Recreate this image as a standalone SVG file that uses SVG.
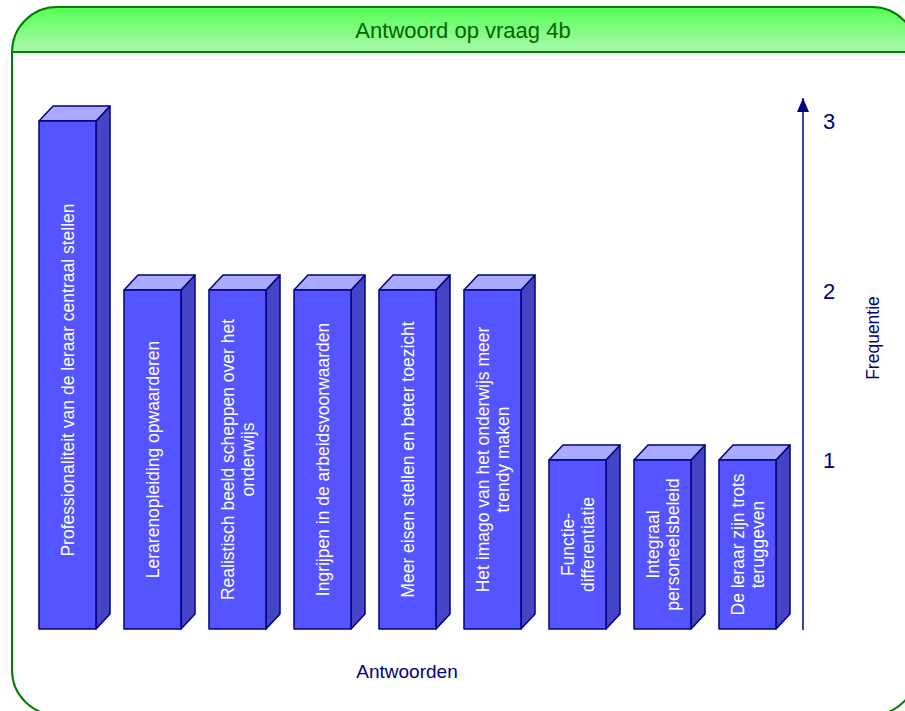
<svg xmlns="http://www.w3.org/2000/svg" width="905" height="711" viewBox="0 0 905 711">
  <defs>
    <linearGradient id="hdr" x1="0" y1="0" x2="0" y2="1">
      <stop offset="0" stop-color="#55FF55"/>
      <stop offset="1" stop-color="#AAF8AA"/>
    </linearGradient>
    <marker id="arrow" markerWidth="14" markerHeight="12" refX="14" refY="6" orient="auto" markerUnits="userSpaceOnUse" viewBox="0 0 14 12">
      <path d="M0,0 L14,6 L0,12 Z" fill="#000080"/>
    </marker>
  </defs>
  <style>
    .frame { fill: none; stroke: #008000; stroke-width: 2; }
    .front { fill: #5555FF; stroke: #000080; stroke-width: 1.5; stroke-linejoin: round; }
    .side { fill: #4444C4; stroke: #000080; stroke-width: 1.5; stroke-linejoin: round; }
    .top { fill: #AAAAFF; stroke: #000080; stroke-width: 1.5; stroke-linejoin: round; }
    .lbl { font-family: "Liberation Sans", Arial, sans-serif; font-size: 17.5px; fill: #FFFFFF; text-anchor: middle; }
    .axis { font-family: "Liberation Sans", Arial, sans-serif; fill: #000080; }
    .title { font-family: "Liberation Sans", Arial, sans-serif; font-size: 22px; fill: #006400; text-anchor: middle; }
  </style>

  <!-- panel with green header -->
  <g id="panel">
    <path d="M12,52 A45,45 0 0 1 57,7 L872,7 A45,45 0 0 1 917,52 Z" fill="url(#hdr)"/>
    <path class="frame" d="M12,52 L917,52"/>
    <path class="frame" d="M57,7 L872,7 A45,45 0 0 1 917,52 L917,670 A45,45 0 0 1 872,715 L57,715 A45,45 0 0 1 12,670 L12,52 A45,45 0 0 1 57,7 Z"/>
    <text class="title" x="463" y="38">Antwoord op vraag 4b</text>
  </g>

  <!-- bars: front face, side face, top face, rotated label -->
  <g id="bar1">
    <polygon class="side" points="96,121 110,106 110,614 96,629"/>
    <polygon class="top" points="39,121 53,106 110,106 96,121"/>
    <rect class="front" x="39" y="121" width="57" height="508"/>
    <text class="lbl" transform="translate(67.5,380) rotate(-90)" y="6">Professionaliteit van de leraar centraal stellen</text>
  </g>
  <g id="bar2">
    <polygon class="side" points="181,290 195,275 195,614 181,629"/>
    <polygon class="top" points="124,290 138,275 195,275 181,290"/>
    <rect class="front" x="124" y="290" width="57" height="339"/>
    <text class="lbl" transform="translate(152.5,459.5) rotate(-90)" y="6">Lerarenopleiding opwaarderen</text>
  </g>
  <g id="bar3">
    <polygon class="side" points="266,290 280,275 280,614 266,629"/>
    <polygon class="top" points="209,290 223,275 280,275 266,290"/>
    <rect class="front" x="209" y="290" width="57" height="339"/>
    <text class="lbl" transform="translate(237.5,459.5) rotate(-90)"><tspan x="0" y="-4">Realistisch beeld scheppen over het</tspan><tspan x="0" y="16">onderwijs</tspan></text>
  </g>
  <g id="bar4">
    <polygon class="side" points="351,290 365,275 365,614 351,629"/>
    <polygon class="top" points="294,290 308,275 365,275 351,290"/>
    <rect class="front" x="294" y="290" width="57" height="339"/>
    <text class="lbl" transform="translate(322.5,459.5) rotate(-90)" y="6">Ingrijpen in de arbeidsvoorwaarden</text>
  </g>
  <g id="bar5">
    <polygon class="side" points="436,290 450,275 450,614 436,629"/>
    <polygon class="top" points="379,290 393,275 450,275 436,290"/>
    <rect class="front" x="379" y="290" width="57" height="339"/>
    <text class="lbl" transform="translate(407.5,459.5) rotate(-90)" y="6">Meer eisen stellen en beter toezicht</text>
  </g>
  <g id="bar6">
    <polygon class="side" points="521,290 535,275 535,614 521,629"/>
    <polygon class="top" points="464,290 478,275 535,275 521,290"/>
    <rect class="front" x="464" y="290" width="57" height="339"/>
    <text class="lbl" transform="translate(492.5,459.5) rotate(-90)"><tspan x="0" y="-4">Het imago van het onderwijs meer</tspan><tspan x="0" y="16">trendy maken</tspan></text>
  </g>
  <g id="bar7">
    <polygon class="side" points="606,460 620,445 620,614 606,629"/>
    <polygon class="top" points="549,460 563,445 620,445 606,460"/>
    <rect class="front" x="549" y="460" width="57" height="169"/>
    <text class="lbl" transform="translate(577.5,544.5) rotate(-90)"><tspan x="0" y="-4">Functie-</tspan><tspan x="0" y="16">differentiatie</tspan></text>
  </g>
  <g id="bar8">
    <polygon class="side" points="691,460 705,445 705,614 691,629"/>
    <polygon class="top" points="634,460 648,445 705,445 691,460"/>
    <rect class="front" x="634" y="460" width="57" height="169"/>
    <text class="lbl" transform="translate(662.5,544.5) rotate(-90)"><tspan x="0" y="-4">Integraal</tspan><tspan x="0" y="16">personeelsbeleid</tspan></text>
  </g>
  <g id="bar9">
    <polygon class="side" points="776,460 790,445 790,614 776,629"/>
    <polygon class="top" points="719,460 733,445 790,445 776,460"/>
    <rect class="front" x="719" y="460" width="57" height="169"/>
    <text class="lbl" transform="translate(747.5,544.5) rotate(-90)"><tspan x="0" y="-4">De leraar zijn trots</tspan><tspan x="0" y="16">teruggeven</tspan></text>
  </g>

  <!-- frequency axis -->
  <g id="connectors">
    <line x1="803" y1="630" x2="803" y2="98" stroke="#000080" stroke-width="1.5" marker-end="url(#arrow)"/>
  </g>
  <g id="axis-labels">
    <text class="axis" x="823" y="129" font-size="22">3</text>
    <text class="axis" x="823" y="299" font-size="22">2</text>
    <text class="axis" x="823" y="468" font-size="22">1</text>
    <text class="axis" transform="translate(879,338) rotate(-90)" font-size="17.5" text-anchor="middle">Frequentie</text>
    <text class="axis" x="407" y="678" font-size="19" text-anchor="middle">Antwoorden</text>
  </g>
</svg>
